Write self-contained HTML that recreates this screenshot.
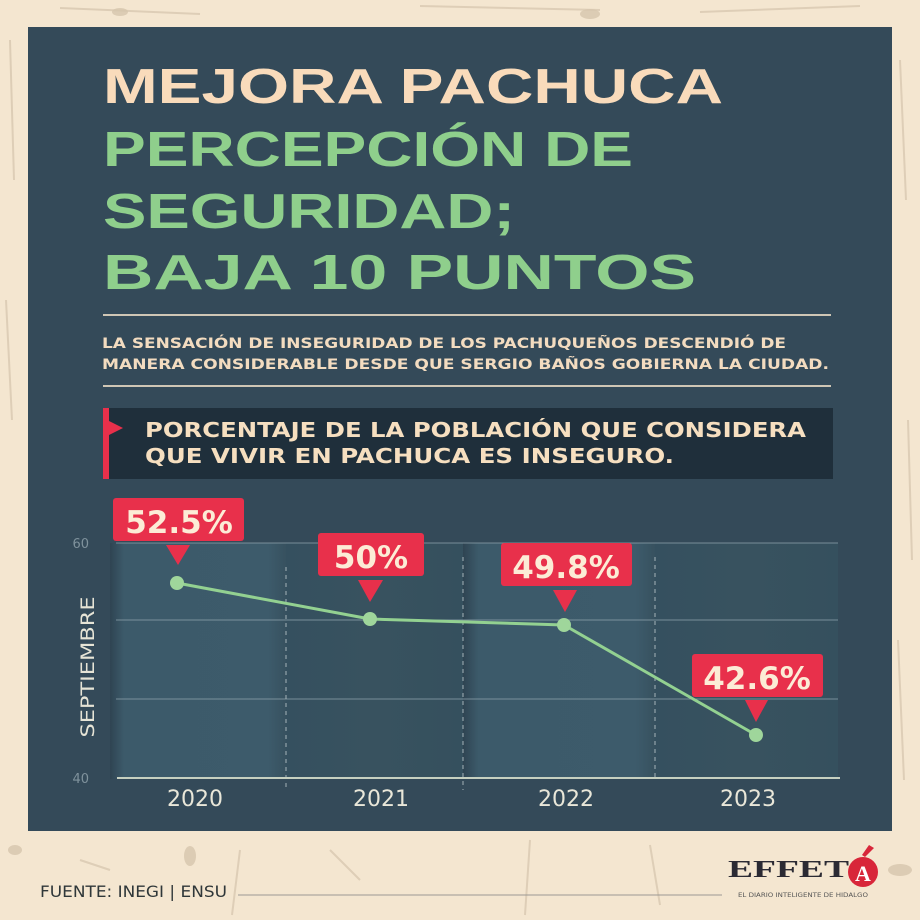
<!DOCTYPE html>
<html>
<head>
<meta charset="utf-8">
<style>
  html,body{margin:0;padding:0;background:#f4e6d0;}
  svg{display:block;}
</style>
</head>
<body>
<svg width="920" height="920" viewBox="0 0 920 920" xmlns="http://www.w3.org/2000/svg">
  <defs>
    <linearGradient id="bandL" x1="0" x2="1" y1="0" y2="0">
      <stop offset="0" stop-color="#2f4452"/>
      <stop offset="0.08" stop-color="#3c5a6a"/>
      <stop offset="0.9" stop-color="#3d5b6b"/>
      <stop offset="1" stop-color="#37515f"/>
    </linearGradient>
    <linearGradient id="bandD" x1="0" x2="1" y1="0" y2="0">
      <stop offset="0" stop-color="#35505f"/>
      <stop offset="0.5" stop-color="#38525f"/>
      <stop offset="1" stop-color="#35505e"/>
    </linearGradient>
  </defs>

  <!-- background -->
  <rect x="0" y="0" width="920" height="920" fill="#f4e6d0"/>
  <g stroke="#d8c8b0" stroke-width="2" fill="none" opacity="0.8">
    <path d="M10 40 L14 180"/>
    <path d="M6 300 L12 420"/>
    <path d="M900 60 L906 200"/>
    <path d="M908 420 L912 560"/>
    <path d="M898 640 L904 780"/>
    <path d="M60 8 L200 14"/>
    <path d="M420 6 L600 10"/>
    <path d="M700 12 L860 6"/>
    <path d="M240 850 L232 915"/>
    <path d="M530 840 L525 915"/>
    <path d="M650 845 L660 905"/>
    <path d="M330 850 L360 880"/>
    <path d="M80 860 L110 870"/>
  </g>
  <g fill="#d6c5ac" opacity="0.8">
    <ellipse cx="190" cy="856" rx="6" ry="10"/>
    <ellipse cx="900" cy="870" rx="12" ry="6"/>
    <ellipse cx="15" cy="850" rx="7" ry="5"/>
    <ellipse cx="120" cy="12" rx="8" ry="4"/>
    <ellipse cx="590" cy="14" rx="10" ry="5"/>
  </g>

  <!-- panel -->
  <rect x="28" y="27" width="864" height="804" fill="#344a59"/>

  <!-- title -->
  <g font-family="'Liberation Sans', 'DejaVu Sans', sans-serif" font-weight="bold" font-size="49">
    <text x="103" y="103" fill="#f9dbbb" textLength="620" lengthAdjust="spacingAndGlyphs">MEJORA PACHUCA</text>
    <text x="103" y="166" fill="#8fcf8c" textLength="530" lengthAdjust="spacingAndGlyphs">PERCEPCIÓN DE</text>
    <text x="103" y="228" fill="#8fcf8c" textLength="412" lengthAdjust="spacingAndGlyphs">SEGURIDAD;</text>
    <text x="103" y="289" fill="#8fcf8c" textLength="593" lengthAdjust="spacingAndGlyphs">BAJA 10 PUNTOS</text>
  </g>

  <!-- separator lines -->
  <line x1="103" y1="315" x2="831" y2="315" stroke="#cfc6b5" stroke-width="2"/>
  <line x1="103" y1="386" x2="831" y2="386" stroke="#cfc6b5" stroke-width="2"/>

  <!-- subtitle -->
  <g font-family="'DejaVu Sans', 'Liberation Sans', sans-serif" font-weight="bold" font-size="14.5" fill="#f3dcc0">
    <text x="102" y="348" textLength="684" lengthAdjust="spacingAndGlyphs">LA SENSACIÓN DE INSEGURIDAD DE LOS PACHUQUEÑOS DESCENDIÓ DE</text>
    <text x="102" y="369" textLength="727" lengthAdjust="spacingAndGlyphs">MANERA CONSIDERABLE DESDE QUE SERGIO BAÑOS GOBIERNA LA CIUDAD.</text>
  </g>

  <!-- dark box -->
  <rect x="103" y="408" width="730" height="71" fill="#1f2f3b"/>
  <rect x="103" y="408" width="6" height="71" fill="#e8304b"/>
  <polygon points="109,421 123,428 109,435" fill="#e8304b"/>
  <g font-family="'DejaVu Sans', 'Liberation Sans', sans-serif" font-weight="bold" font-size="20.5" fill="#f6dfc0">
    <text x="145" y="437" textLength="661" lengthAdjust="spacingAndGlyphs">PORCENTAJE DE LA POBLACIÓN QUE CONSIDERA</text>
    <text x="145" y="463" textLength="529" lengthAdjust="spacingAndGlyphs">QUE VIVIR EN PACHUCA ES INSEGURO.</text>
  </g>

  <!-- chart bands -->
  <rect x="110" y="543" width="176" height="236" fill="url(#bandL)"/>
  <rect x="286" y="543" width="177" height="236" fill="url(#bandD)"/>
  <rect x="463" y="543" width="192" height="236" fill="url(#bandL)"/>
  <rect x="655" y="543" width="183" height="236" fill="url(#bandD)"/>

  <!-- gridlines -->
  <g stroke="#8fa3ad" stroke-width="1" opacity="0.75">
    <line x1="116" y1="543" x2="838" y2="543"/>
    <line x1="116" y1="620" x2="838" y2="620"/>
    <line x1="116" y1="699" x2="838" y2="699"/>
  </g>
  <!-- dashed verticals -->
  <g stroke="#b9c5c9" stroke-width="1" stroke-dasharray="4,4" opacity="0.85">
    <line x1="286" y1="567" x2="286" y2="790"/>
    <line x1="463" y1="557" x2="463" y2="790"/>
    <line x1="655" y1="557" x2="655" y2="778"/>
  </g>
  <!-- baseline -->
  <line x1="117" y1="778" x2="840" y2="778" stroke="#c6d0c0" stroke-width="2"/>

  <!-- y labels -->
  <g font-family="'DejaVu Sans', 'Liberation Sans', sans-serif" font-size="13" fill="#7f929c" text-anchor="end">
    <text x="89" y="548">60</text>
    <text x="89" y="783">40</text>
  </g>
  <text transform="translate(94,667) rotate(-90)" text-anchor="middle" font-family="'DejaVu Sans', 'Liberation Sans', sans-serif" font-size="19" fill="#e6e4d6" textLength="141" lengthAdjust="spacingAndGlyphs">SEPTIEMBRE</text>

  <!-- x labels -->
  <g font-family="'DejaVu Sans', 'Liberation Sans', sans-serif" font-size="22" fill="#e9e7d9" text-anchor="middle">
    <text x="195" y="806">2020</text>
    <text x="381" y="806">2021</text>
    <text x="566" y="806">2022</text>
    <text x="748" y="806">2023</text>
  </g>

  <!-- series -->
  <polyline points="177,583 370,619 564,625 756,735" fill="none" stroke="#93d191" stroke-width="3" stroke-linejoin="round"/>
  <g fill="#9fd69b">
    <circle cx="177" cy="583" r="7"/>
    <circle cx="370" cy="619" r="7"/>
    <circle cx="564" cy="625" r="7"/>
    <circle cx="756" cy="735" r="7"/>
  </g>

  <!-- callouts -->
  <g fill="#e8304b">
    <rect x="113" y="498" width="131" height="43" rx="3"/>
    <polygon points="166,545 190,545 178,565"/>
    <rect x="318" y="533" width="106" height="43" rx="3"/>
    <polygon points="358,580 383,580 370,602"/>
    <rect x="501" y="543" width="131" height="43" rx="3"/>
    <polygon points="553,590 577,590 565,612"/>
    <rect x="692" y="654" width="131" height="43" rx="3"/>
    <polygon points="745,700 768,700 756,722"/>
  </g>
  <g font-family="'DejaVu Sans', 'Liberation Sans', sans-serif" font-weight="bold" font-size="31" fill="#fcecd6" text-anchor="middle">
    <text x="179" y="533">52.5%</text>
    <text x="371" y="568">50%</text>
    <text x="566" y="578">49.8%</text>
    <text x="757" y="689">42.6%</text>
  </g>

  <!-- footer -->
  <text x="40" y="897" font-family="'DejaVu Sans', 'Liberation Sans', sans-serif" font-size="16" fill="#2f3739" textLength="187" lengthAdjust="spacingAndGlyphs">FUENTE: INEGI | ENSU</text>
  <line x1="238" y1="895" x2="722" y2="895" stroke="#9b9893" stroke-width="1"/>

  <!-- logo -->
  <text x="728" y="877" font-family="'Liberation Serif', 'DejaVu Serif', serif" font-weight="bold" font-size="24" fill="#2b2a33" textLength="121" lengthAdjust="spacingAndGlyphs">EFFET</text>
  <circle cx="863" cy="872" r="15" fill="#d8263a"/>
  <text x="863" y="881" text-anchor="middle" font-family="'Liberation Serif', 'DejaVu Serif', serif" font-weight="bold" font-size="22" fill="#ffffff">A</text>
  <polygon points="862,855 869,845 874,848 865,857" fill="#d8263a"/>
  <text x="738" y="897" font-family="'DejaVu Sans', 'Liberation Sans', sans-serif" font-size="6.5" fill="#555555" textLength="130" lengthAdjust="spacingAndGlyphs">EL DIARIO INTELIGENTE DE HIDALGO</text>
</svg>
</body>
</html>
